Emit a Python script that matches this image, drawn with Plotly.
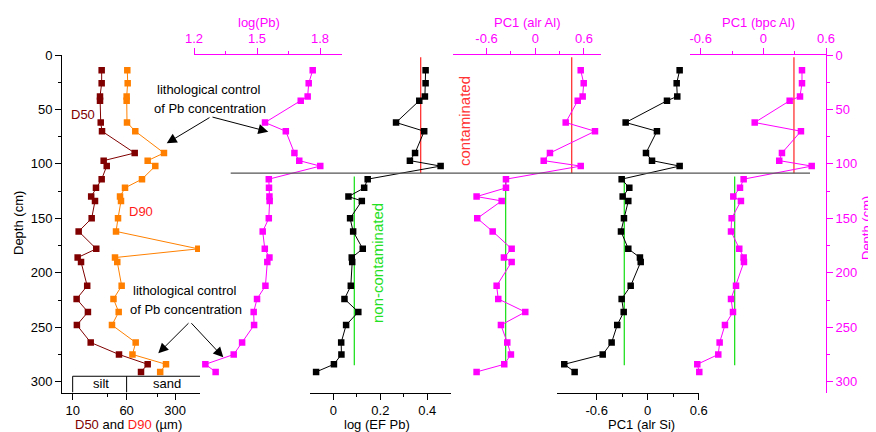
import plotly.graph_objects as go

# ---------------- data ----------------
depth = [14, 26, 38, 42, 62, 70, 90, 97, 102, 114, 122, 130, 134, 150, 162, 178,
         186, 190, 212, 224, 236, 248, 264, 275, 284, 291]
d50 = [26.2, 26.2, 24.8, 24.8, 25.4, 26.5, 78.5, 28.0, 31.0, 26.2, 21.7, 18.5, 21.0,
       18.8, 12.2, 21.9, 11.8, 13.2, 16.2, 11.4, 16.6, 11.5, 18.2, 46.6, 120.8, 96.8]
d90 = [61.4, 62.2, 60.1, 60.1, 60.8, 80.0, 207.6, 120.8, 155.6, 100, 56.9, 48.2, 49.8,
       45.1, 42.2, 649, 40.8, 44.0, 50.9, 38.8, 46.1, 36.9, 81.1, 72.9, 222, 183]
log_pb = [1.765, 1.746, 1.741, 1.708, 1.538, 1.637, 1.678, 1.701, 1.801, 1.556, 1.557,
          1.559, 1.560, 1.556, 1.527, 1.537, 1.559, 1.549, 1.540, 1.500, 1.484, 1.486,
          1.429, 1.389, 1.254, 1.303]
log_ef_pb = [0.393, 0.393, 0.390, 0.366, 0.267, 0.387, 0.348, 0.326, 0.457, 0.146, 0.131,
             0.064, 0.121, 0.071, 0.084, 0.125, 0.078, 0.080, 0.074, 0.047, 0.106, 0.054,
             0.033, 0.034, 0.002, -0.074]
pc1_alr_al = [0.56, 0.597, 0.584, 0.523, 0.375, 0.736, 0.181, 0.104, 0.56, -0.361, -0.361,
              -0.723, -0.414, -0.715, -0.525, -0.291, -0.386, -0.291, -0.476, -0.456,
              -0.123, -0.423, -0.345, -0.3, -0.382, -0.723]
pc1_alr_si = [0.376, 0.341, 0.348, 0.227, -0.259, 0.109, -0.02, 0.051, 0.376, -0.306,
              -0.216, -0.294, -0.228, -0.279, -0.314, -0.228, -0.091, -0.082, -0.2,
              -0.306, -0.282, -0.358, -0.424, -0.529, -0.981, -0.859]
pc1_bpc_al = [0.37, 0.37, 0.351, 0.252, -0.083, 0.36, 0.178, 0.152, 0.463, -0.189, -0.224,
              -0.288, -0.215, -0.304, -0.31, -0.231, -0.189, -0.186, -0.262, -0.31,
              -0.291, -0.368, -0.419, -0.432, -0.633, -0.614]

boundary_depth = 108.5
contam_depths = [2, 108.5]
noncontam_depths = [111.5, 285]
ef_thresholds = {"contaminated": 0.372, "non": 0.089}
alr_al_thresholds = {"contaminated": 0.449, "non": -0.365}
alr_si_thresholds = {"non": -0.275}
bpc_al_thresholds = {"contaminated": 0.293, "non": -0.275}

depth_ticks = [0, 50, 100, 150, 200, 250, 300]
gs_ticks = [10, 60, 300]
logpb_ticks = [1.2, 1.5, 1.8]
ef_ticks = [0, 0.2, 0.4]
pc_ticks = [-0.6, 0, 0.6]
silt_sand_limit = 60
silt_box_top = 295

# ---------------- styling ----------------
OFF = 8                      # page body margin
W, H = 876 - OFF, 432 - OFF  # figure size so the page fits the window
FONT = "Liberation Sans, Arial, sans-serif"
MAG = "#ff00ff"
DRED = "#800000"
ORANGE = "#ff8000"
RED = "#ff3333"
GREEN = "#22e022"


def px(x):
    return (x - OFF) / W


def py(y):
    return 1 - (y - OFF) / H


def fmt(v):
    return "%g" % v


fig = go.Figure()
mk = dict(symbol="square", size=6.5)

fig.add_trace(go.Scatter(x=d50, y=depth, xaxis="x", yaxis="y", mode="lines+markers",
                         line=dict(color=DRED, width=1), marker=dict(color=DRED, **mk)))
fig.add_trace(go.Scatter(x=d90, y=depth, xaxis="x", yaxis="y", mode="lines+markers",
                         line=dict(color=ORANGE, width=1), marker=dict(color=ORANGE, **mk)))
# silt / sand box
fig.add_trace(go.Scatter(
    x=[10, 10, 1000, None, silt_sand_limit, silt_sand_limit],
    y=[310, silt_box_top, silt_box_top, None, silt_box_top, 310],
    xaxis="x", yaxis="y", mode="lines", line=dict(color="black", width=1)))

fig.add_trace(go.Scatter(x=log_pb, y=depth, xaxis="x2", yaxis="y", mode="lines+markers",
                         line=dict(color=MAG, width=1), marker=dict(color=MAG, **mk)))

# EF
fig.add_trace(go.Scatter(x=[ef_thresholds["contaminated"]] * 2, y=contam_depths, xaxis="x3",
                         yaxis="y", mode="lines", line=dict(color=RED, width=1.3)))
fig.add_trace(go.Scatter(x=[ef_thresholds["non"]] * 2, y=noncontam_depths, xaxis="x3",
                         yaxis="y", mode="lines", line=dict(color=GREEN, width=1.3)))
fig.add_trace(go.Scatter(x=log_ef_pb, y=depth, xaxis="x3", yaxis="y", mode="lines+markers",
                         line=dict(color="black", width=1), marker=dict(color="black", **mk)))

# alr Al
fig.add_trace(go.Scatter(x=[alr_al_thresholds["contaminated"]] * 2, y=contam_depths, xaxis="x4",
                         yaxis="y", mode="lines", line=dict(color=RED, width=1.3)))
fig.add_trace(go.Scatter(x=[alr_al_thresholds["non"]] * 2, y=noncontam_depths, xaxis="x4",
                         yaxis="y", mode="lines", line=dict(color=GREEN, width=1.3)))
fig.add_trace(go.Scatter(x=pc1_alr_al, y=depth, xaxis="x4", yaxis="y", mode="lines+markers",
                         line=dict(color=MAG, width=1), marker=dict(color=MAG, **mk)))

# alr Si
fig.add_trace(go.Scatter(x=[alr_si_thresholds["non"]] * 2, y=noncontam_depths, xaxis="x5",
                         yaxis="y", mode="lines", line=dict(color=GREEN, width=1.3)))
fig.add_trace(go.Scatter(x=pc1_alr_si, y=depth, xaxis="x5", yaxis="y", mode="lines+markers",
                         line=dict(color="black", width=1), marker=dict(color="black", **mk)))

# bpc Al
fig.add_trace(go.Scatter(x=[bpc_al_thresholds["contaminated"]] * 2, y=contam_depths, xaxis="x6",
                         yaxis="y2", mode="lines", line=dict(color=RED, width=1.3)))
fig.add_trace(go.Scatter(x=[bpc_al_thresholds["non"]] * 2, y=noncontam_depths, xaxis="x6",
                         yaxis="y2", mode="lines", line=dict(color=GREEN, width=1.3)))
fig.add_trace(go.Scatter(x=pc1_bpc_al, y=depth, xaxis="x6", yaxis="y2", mode="lines+markers",
                         line=dict(color=MAG, width=1), marker=dict(color=MAG, **mk)))

ydom = [py(392.6), py(55)]


def xax(dom, rng, side, color, tickvals, minor_vals, anchor="y", typ="linear"):
    return dict(domain=[px(dom[0]), px(dom[1])], range=rng, side=side, anchor=anchor,
                type=typ, showgrid=False, zeroline=False, showline=True, linecolor=color,
                linewidth=1, ticks="outside", ticklen=6, tickcolor=color, tickwidth=1,
                tickvals=tickvals, ticktext=[fmt(v) for v in tickvals], tickangle=0,
                automargin=False,
                tickfont=dict(family=FONT, size=13, color=color),
                minor=dict(tickvals=minor_vals, ticks="outside", ticklen=3, tickcolor=color,
                           showgrid=False),
                fixedrange=True)


def yax(color, anchor, side):
    return dict(domain=ydom, range=[310, 0], anchor=anchor, side=side, showgrid=False,
                zeroline=False, showline=True, linecolor=color, ticks="outside", ticklen=6,
                tickcolor=color, tickvals=depth_ticks,
                ticktext=[str(v) for v in depth_ticks], automargin=False,
                tickfont=dict(family=FONT, size=13, color=color),
                minor=dict(dtick=25, ticks="outside", ticklen=3, tickcolor=color),
                fixedrange=True)


layout = dict(
    width=W, height=H, autosize=False, showlegend=False,
    margin=dict(l=0, r=0, t=0, b=0, pad=0, autoexpand=False),
    paper_bgcolor="white", plot_bgcolor="rgba(0,0,0,0)",
    font=dict(family=FONT, size=13, color="black"),
    xaxis=xax([62, 200], [0.846, 2.837], "bottom", "black", gs_ticks, [32, 165], typ="log"),
    xaxis2=xax([194, 341.7], [1.2, 1.903], "top", MAG, logpb_ticks, [1.35, 1.65]),
    xaxis3=xax([310, 450.7], [-0.1, 0.5], "bottom", "black", ef_ticks, [0.1, 0.3]),
    xaxis4=xax([453.3, 601], [-1.01, 0.81], "top", MAG, pc_ticks, [-0.3, 0.3]),
    xaxis5=xax([556.7, 698.7], [-1.07, 0.6], "bottom", "black", pc_ticks, [-0.3, 0.3]),
    xaxis6=xax([690.3, 826], [-0.7, 0.6], "top", MAG, pc_ticks, [-0.3, 0.3], anchor="y2"),
    yaxis=yax("black", "x", "left"),
    yaxis2=yax(MAG, "x6", "right"),
    shapes=[dict(type="line", xref="paper", yref="y", x0=px(230.7), x1=px(810),
                 y0=boundary_depth, y1=boundary_depth, line=dict(color="#555555", width=1.3))],
)
fig.update_layout(**layout)


def ann(x, y, text, color="black", size=13, angle=0):
    fig.add_annotation(x=px(x), y=py(y), xref="paper", yref="paper", text=text,
                       showarrow=False, xanchor="center", yanchor="middle",
                       textangle=angle, font=dict(family=FONT, size=size, color=color))


def arrow(tip, tail):
    fig.add_annotation(x=px(tip[0]), y=py(tip[1]), xref="paper", yref="paper", text="",
                       showarrow=True, ax=tail[0] - tip[0], ay=tail[1] - tip[1],
                       arrowhead=2, arrowsize=2, arrowwidth=1, arrowcolor="black",
                       standoff=0, startstandoff=0)


# axis titles
ann(18, 223, "Depth (cm)", angle=-90)
ann(866, 228, "Depth (cm)", color=MAG, angle=-90)
ann(128, 424, "<span style='color:#800000'>D50</span> and "
              "<span style='color:#ff1a1a'>D90</span> (µm)")
ann(377, 424, "log (EF Pb)")
ann(641, 424, "PC1 (alr Si)")
ann(259, 22, "log(Pb)", color=MAG)
ann(527, 22, "PC1 (alr Al)", color=MAG)
ann(758, 22, "PC1 (bpc Al)", color=MAG)

# labels
ann(83, 114, "D50", color=DRED)
ann(141, 211, "D90", color="#ff1a1a")
ann(101, 383, "silt")
ann(167, 383, "sand")
ann(208, 89, "lithological control")
ann(210, 109, "of Pb concentration")
ann(184, 290, "lithological control")
ann(186, 309, "of Pb concentration")
ann(464, 121, "contaminated", color=RED, size=15, angle=-90)
ann(378, 263, "non-contaminated", color=GREEN, size=15, angle=-90)

arrow((166.7, 143.3), (211, 116.7))
arrow((268.3, 131.7), (211, 116.7))
arrow((158.3, 353.3), (190, 321.7))
arrow((223.3, 357.3), (190, 321.7))

fig.write_html("out.html")
